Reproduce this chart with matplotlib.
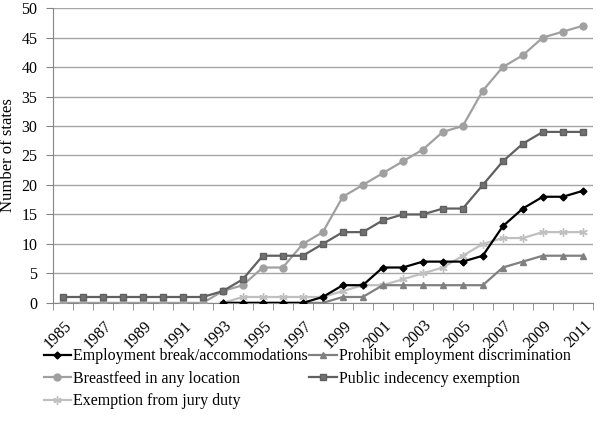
import numpy as np
import matplotlib
matplotlib.use("Agg")
import matplotlib.pyplot as plt
from matplotlib.transforms import ScaledTranslation

plt.rcParams['font.family'] = ['Liberation Serif', 'DejaVu Serif']

years = list(range(1985, 2012))
nan = np.nan

# values per year, 1985..2011 (nan = series not shown yet)
employment_break = [nan] * 8 + [0, 0, 0, 0, 0, 1, 3, 3, 6, 6, 7, 7, 7, 8, 13, 16, 18, 18, 19]
prohibit_discrim = [nan] * 8 + [0, 0, 0, 0, 0, 0, 1, 1, 3, 3, 3, 3, 3, 3, 6, 7, 8, 8, 8]
breastfeed = [0] * 8 + [2, 3, 6, 6, 10, 12, 18, 20, 22, 24, 26, 29, 30, 36, 40, 42, 45, 46, 47]
public_indecency = [1] * 8 + [2, 4, 8, 8, 8, 10, 12, 12, 14, 15, 15, 16, 16, 20, 24, 27, 29, 29, 29]
jury_duty = [nan] * 8 + [0, 1, 1, 1, 1, 1, 2, 3, 3, 4, 5, 6, 8, 10, 11, 11, 12, 12, 12]

fig = plt.figure(figsize=(6, 4.26), dpi=100)
ax = fig.add_axes([0.088, 0.289, 0.9, 0.692])

x = np.arange(len(years))
ax.plot(x, breastfeed, color='#a0a0a0', lw=1.6, marker='o', ms=5,
        label='Breastfeed in any location', zorder=3)
ax.plot(x, public_indecency, color='#606060', lw=1.6, marker='s', ms=5,
        mfc='#707070', mec='#606060', label='Public indecency exemption', zorder=4)
ax.plot(x, jury_duty, color='#c0c0c0', lw=1.6, marker=(6, 2, 0), ms=6,
        label='Exemption from jury duty', zorder=3)
ax.plot(x, prohibit_discrim, color='#808080', lw=1.6, marker='^', ms=5,
        label='Prohibit employment discrimination', zorder=4)
ax.plot(x, employment_break, color='black', lw=1.6, marker='D', ms=3.5,
        label='Employment break/accommodations', zorder=5)

ax.set_xlim(-0.5, len(years) - 0.5)
ax.set_ylim(0, 50)
ax.set_yticks(range(0, 51, 5))
ax.yaxis.grid(True, color='#a6a6a6', lw=1)
ax.set_axisbelow(True)
ax.tick_params(axis='y', length=5, color='#868686', labelsize=11.5, pad=6)

ax.set_xticks(x[::2])
ax.set_xticklabels([str(y) for y in years[::2]], rotation=45, ha='right',
                   rotation_mode='anchor', fontsize=11.5)
ax.set_xticks(np.arange(-0.5, len(years)), minor=True)
ax.tick_params(axis='x', which='major', length=0, pad=4)
ax.tick_params(axis='x', which='minor', length=5, color='#868686')
# nudge rotated year labels (in pixels at 100 dpi)
shift = ScaledTranslation(1 / 100, -9 / 100, fig.dpi_scale_trans)
for lab in ax.get_xticklabels():
    lab.set_transform(lab.get_transform() + shift)

for s in ['top', 'right']:
    ax.spines[s].set_visible(False)
ax.spines['left'].set_color('#868686')
ax.spines['bottom'].set_color('#868686')

ax.set_ylabel('Number of states', fontsize=12, labelpad=4)

h, l = ax.get_legend_handles_labels()
order = [4, 0, 2, 3, 1]
leg = fig.legend([h[i] for i in order], [l[i] for i in order], ncol=2,
                 loc='upper left', bbox_to_anchor=(0.062, 0.197), frameon=False,
                 fontsize=11.5, handlelength=1.7, handletextpad=0.15,
                 columnspacing=0.1, labelspacing=0.4, borderaxespad=0)

fig.savefig('out.png', dpi=100)
